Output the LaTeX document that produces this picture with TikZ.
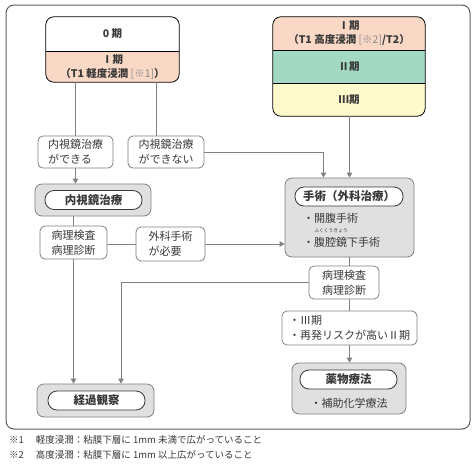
\documentclass[tikz,border=0pt]{standalone}
\usepackage{fontspec}
\setmainfont{Noto Sans CJK JP}
\usetikzlibrary{positioning,arrows.meta}
\definecolor{stroke}{HTML}{808080}
\definecolor{frame}{HTML}{5A5A5A}
\definecolor{ink}{HTML}{383838}
\definecolor{light}{HTML}{8A8A8A}
\definecolor{salmon}{HTML}{FAD8C6}
\definecolor{mint}{HTML}{A3D9C3}
\definecolor{cream}{HTML}{FFFACC}
\definecolor{boxgray}{HTML}{E0E0E0}
\newcommand{\fsz}[2]{\fontsize{#1}{#2}\selectfont}
\tikzset{
  box/.style={draw=stroke, line width=0.8pt, rounded corners=5, fill=white, text=ink,
    inner sep=0, font=\fsz{11}{15}},
  band/.style={minimum width=#1, inner sep=0, align=center, text=ink, font=\bfseries\fsz{10.5}{14}},
  treat/.style={draw=stroke, line width=0.8pt, rounded corners=7, fill=boxgray, inner sep=0},
  pill/.style={draw=ink, line width=0.8pt, rounded corners=9, fill=white, inner sep=0,
    minimum width=97, minimum height=19, text=ink, font=\bfseries\fsz{11.5}{13}},
  link/.style={draw=stroke, line width=0.8pt},
  arr/.style={link, -{Triangle[width=5.5pt,length=5pt]}}
}
\begin{document}
\begin{tikzpicture}[x=1pt,y=-1pt]
\useasboundingbox (0,0) rectangle (474,474);
\draw[frame, line width=1pt, rounded corners=8] (6,5) rectangle (470,429);

% stage columns
\begin{scope}
  \clip[rounded corners=8] (46,17) rectangle (179,82);
  \node[band=133, fill=white, minimum height=34] (s0) at (112.5,34) {0 期};
  \node[band=133, fill=salmon, minimum height=31] (s1) at (112.5,66.5)
    {Ⅰ期\\（T1 軽度浸潤 {\mdseries\color{light}[※1]}）};
\end{scope}
\draw[stroke, line width=0.8pt, rounded corners=8] (s0.north west) rectangle (s1.south east);
\draw[stroke, line width=0.8pt] (s0.south west) -- (s0.south east);

\begin{scope}
  \clip[rounded corners=8] (273,17) rectangle (425,116);
  \node[band=152, fill=salmon, minimum height=33] (r1) at (349,33.5)
    {Ⅰ期\\（T1 高度浸潤 {\mdseries\color{light}[※2]}/T2）};
  \node[band=152, fill=mint, minimum height=33] (r2) at (349,66.5) {Ⅱ期};
  \node[band=152, fill=cream, minimum height=33] (r3) at (349,99.5) {Ⅲ期};
\end{scope}
\draw[stroke, line width=0.8pt, rounded corners=8] (r1.north west) rectangle (r3.south east);
\foreach \b in {r1,r2}
  \draw[stroke, line width=0.8pt] (\b.south west) -- (\b.south east);

% decisions
\node[box, minimum width=75, minimum height=32, align=left] (can) at (75.5,152)
  {内視鏡治療\\ができる};
\node[box, minimum width=76, minimum height=32, align=left] (cannot) at (166,152)
  {内視鏡治療\\ができない};

% endoscopic treatment
\node[treat, minimum width=116, minimum height=32] (endo) at (93,200) {};
\node[pill] (endot) at (93.5,200) {内視鏡治療};

\node[box, minimum width=67, minimum height=33, align=center] (path1) at (73.5,242.5)
  {病理検査\\病理診断};
\node[box, minimum width=69, minimum height=34, align=left] (need) at (170.5,244)
  {外科手術\\が必要};

% surgery
\node[treat, minimum width=129, minimum height=79] (surg) at (349.5,217.5) {};
\node[pill, minimum width=108] (surgt) at (349,196.5) {手術（外科治療）};
\node[anchor=west, inner sep=0, text=ink, font=\fsz{11}{13}] (op1) at (303,218) {・開腹手術};
\node[anchor=west, inner sep=0, text=ink, font=\fsz{11}{13}] (op2) at (303,242) {・腹腔鏡下手術};
\node[inner sep=0, text=ink, font=\fsz{4.8}{5}] (ruby) at (331,230.5) {ふくくうきょう};

\node[box, minimum width=70, minimum height=33, align=center] (path2) at (344,282.5)
  {病理検査\\病理診断};
\node[box, minimum width=135, minimum height=34, align=left] (risk) at (349.5,328)
  {・Ⅲ期\\・再発リスクが高いⅡ期};

% chemotherapy
\node[treat, minimum width=114, minimum height=51] (drug) at (349,388.5) {};
\node[pill] (drugt) at (348.5,379.5) {薬物療法};
\node[inner sep=0, text=ink, font=\fsz{11}{13}] (adj) at (349,403) {・補助化学療法};

% follow-up
\node[treat, minimum width=117, minimum height=33] (obs) at (95.5,400.5) {};
\node[pill] (obst) at (96.5,400.5) {経過観察};

% connectors
\draw[link] (s1.south -| can.north) -- (can.north);
\draw[link] ([xshift=-10]cannot.north |- s1.south) -- ([xshift=-10]cannot.north);
\draw[arr] (can.south) -- (can.south |- endo.north);
\draw[link] (endo.south -| path1.north) -- (path1.north);
\draw[link] (path1.east |- need.west) -- (need.west);
\draw[arr] (need.east) -- (need.east -| surg.west);
\draw[arr] (cannot.east) -| ([xshift=-26]surg.north);
\draw[arr] (r3.south -| surg.north) -- (surg.north);
\draw[link] (surg.south) -- (surg.south |- path2.north);
\draw[link] (path2.south -| surg.south) -- (surg.south |- risk.north);
\draw[arr] (risk.south -| surg.south) -- (surg.south |- drug.north);
\draw[arr] (path1.south) -- (path1.south |- obs.north);
\draw[arr] (path2.west) -| ([xshift=25.5]obs.north);

% notes
\node[anchor=west, inner sep=0, text=ink, font=\fsz{9.5}{12}] (note1) at (9,440)
  {※1\hspace{12pt}軽度浸潤：粘膜下層に 1mm 未満で広がっていること};
\node[anchor=west, inner sep=0, text=ink, font=\fsz{9.5}{12}] (note2) at (9,455)
  {※2\hspace{12pt}高度浸潤：粘膜下層に 1mm 以上広がっていること};
\end{tikzpicture}
\end{document}
